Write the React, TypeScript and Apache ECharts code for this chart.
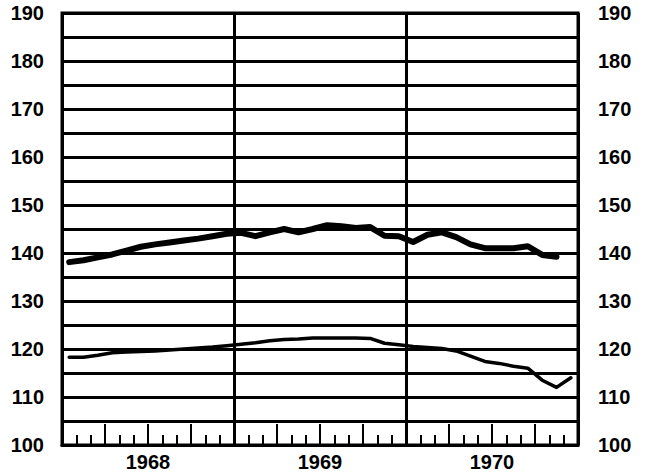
import React, { useEffect, useRef } from "react";
import * as echarts from "echarts";

const yearLabels = ["1968", "1969", "1970"];
const yearCenters = [6, 18, 30];

const upperSeries = [
  138.1, 138.5, 139.1, 139.7, 140.5, 141.3, 141.8, 142.2, 142.6, 143.0, 143.5, 144.0,
  144.2, 143.5, 144.3, 145.0, 144.3, 145.0, 145.8, 145.6, 145.2, 145.4, 143.6, 143.5,
  142.3, 143.8, 144.3, 143.3, 141.8, 141.0, 141.0, 141.0, 141.4, 139.6, 139.2,
];

const lowerSeries = [
  118.3, 118.3, 118.7, 119.2, 119.4, 119.5, 119.6, 119.8, 120.0, 120.2, 120.4, 120.7,
  121.0, 121.3, 121.7, 122.0, 122.1, 122.3, 122.3, 122.3, 122.3, 122.2, 121.2, 120.9,
  120.5, 120.3, 120.1, 119.6, 118.5, 117.4, 117.0, 116.4, 116.0, 113.5, 112.0, 114.0,
];

const toPoints = (vals: number[]) => vals.map((v, i) => [i + 0.5, v]);

const FONT = "Liberation Sans";

export default function App() {
  const ref = useRef<HTMLDivElement>(null);
  useEffect(() => {
    if (!ref.current) return;
    const chart = echarts.init(ref.current, undefined, { renderer: "svg" });
    const baseX = {
      type: "value" as const,
      min: 0,
      max: 36,
      position: "bottom" as const,
      axisLine: { show: false },
      axisTick: { show: false },
      axisLabel: { show: false },
      splitLine: { show: false },
    };
    const yLabel = {
      fontFamily: FONT,
      fontWeight: "bold" as const,
      fontSize: 20,
      color: "#000",
      formatter: (v: number) => (v % 10 === 0 ? String(v) : ""),
    };
    chart.setOption({
      animation: false,
      backgroundColor: "#fff",
      grid: {
        left: 62,
        right: 68,
        top: 13,
        bottom: 29,
        show: true,
        borderColor: "#000",
        borderWidth: 3,
      },
      xAxis: [
        {
          ...baseX,
          interval: 1,
          axisLine: { show: true, lineStyle: { color: "#000", width: 3 } },
          axisTick: { show: true, inside: true, length: 10, lineStyle: { color: "#000", width: 2 } },
        },
        {
          ...baseX,
          interval: 3,
          axisTick: { show: true, inside: true, length: 21, lineStyle: { color: "#000", width: 2 } },
        },
        {
          ...baseX,
          interval: 12,
          splitLine: { show: true, lineStyle: { color: "#000", width: 3 } },
        },
        {
          ...baseX,
          interval: 6,
          axisLabel: {
            show: true,
            margin: 7,
            fontFamily: FONT,
            fontWeight: "bold",
            fontSize: 20,
            color: "#000",
            formatter: (v: number) => {
              const k = yearCenters.indexOf(v);
              return k >= 0 ? yearLabels[k] : "";
            },
          },
        },
      ],
      yAxis: [
        {
          type: "value",
          position: "left",
          min: 100,
          max: 190,
          interval: 5,
          axisLine: { show: false },
          axisTick: { show: false },
          axisLabel: { ...yLabel, margin: 18 },
          splitLine: { show: true, lineStyle: { color: "#000", width: 3 } },
        },
        {
          type: "value",
          position: "right",
          min: 100,
          max: 190,
          interval: 5,
          axisLine: { show: false },
          axisTick: { show: false },
          axisLabel: { ...yLabel, margin: 20 },
          splitLine: { show: false },
        },
      ],
      series: [
        {
          type: "line",
          xAxisIndex: 0,
          yAxisIndex: 0,
          data: toPoints(upperSeries),
          showSymbol: false,
          lineStyle: { color: "#000", width: 6, cap: "round", join: "round" },
          z: 5,
        },
        {
          type: "line",
          xAxisIndex: 0,
          yAxisIndex: 0,
          data: toPoints(lowerSeries),
          showSymbol: false,
          lineStyle: { color: "#000", width: 3.5, cap: "round", join: "round" },
          z: 5,
        },
      ],
    });
    return () => chart.dispose();
  }, []);
  return (
    <div
      ref={ref}
      style={{ position: "fixed", left: 0, top: 0, width: 646, height: 474, background: "#fff" }}
    />
  );
}
